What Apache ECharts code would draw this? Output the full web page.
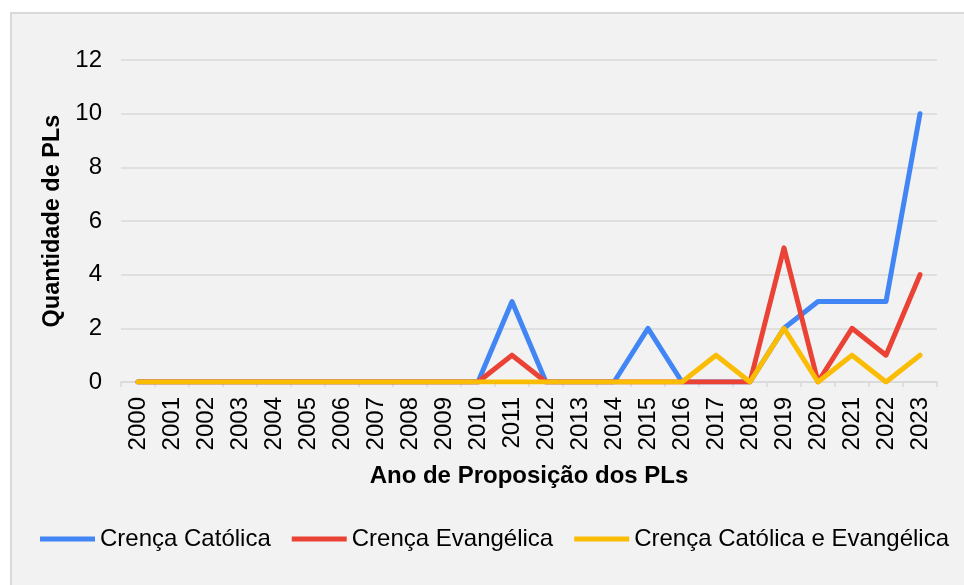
<!DOCTYPE html>
<html>
<head>
<meta charset="utf-8">
<script src="https://cdn.jsdelivr.net/npm/echarts@6/dist/echarts.min.js"></script>
<style>
html,body{margin:0;padding:0;background:#ffffff;}
#c{width:964px;height:585px;}
</style>
</head>
<body>
<div id="c"></div>
<script>
const years = ['2000','2001','2002','2003','2004','2005','2006','2007','2008','2009','2010','2011','2012','2013','2014','2015','2016','2017','2018','2019','2020','2021','2022','2023'];
const catolica   = [0,0,0,0,0,0,0,0,0,0,0,3,0,0,0,2,0,0,0,2,3,3,3,10];
const evangelica = [0,0,0,0,0,0,0,0,0,0,0,1,0,0,0,0,0,0,0,5,0,2,1,4];
const ambas      = [0,0,0,0,0,0,0,0,0,0,0,0,0,0,0,0,0,1,0,2,0,1,0,1];
const seriesNames = ['Crença Católica','Crença Evangélica','Crença Católica e Evangélica'];
const yTicks = {min:0, max:12, interval:2};

const font = '"Liberation Sans", Arial, sans-serif';
const colors = ['#4285F4','#EA4335','#FBBC04'];
const chart = echarts.init(document.getElementById('c'), null, {renderer:'canvas'});
const mk = (name, data, color) => ({
  name, type:'line', data, symbol:'none', smooth:false,
  lineStyle:{width:5, color, cap:'round', join:'round'},
  itemStyle:{color}
});
chart.setOption({
  animation:false,
  backgroundColor:'transparent',
  graphic:[{type:'rect', z:-10, silent:true,
    shape:{x:11,y:13,width:960,height:600},
    style:{fill:'#f2f2f2', stroke:'#d9d9d9', lineWidth:2}}],
  grid:{left:121, right:27, top:60, bottom:203},
  legend:{
    left:35, top:522, itemWidth:55, itemHeight:5, itemGap:21,
    icon:'rect',
    textStyle:{fontFamily:font, fontSize:24, color:'#000'},
    data:seriesNames
  },
  xAxis:{
    type:'category', data:years, boundaryGap:true,
    axisLine:{show:true, lineStyle:{color:'#d9d9d9', width:1.5}},
    axisTick:{show:true, alignWithLabel:false, length:5, lineStyle:{color:'#d9d9d9', width:1.5}},
    axisLabel:{rotate:90, fontFamily:font, fontSize:24, color:'#000', margin:15, interval:0},
    name:'Ano de Proposição dos PLs', nameLocation:'middle', nameGap:82,
    nameTextStyle:{fontFamily:font, fontSize:24, fontWeight:'bold', color:'#000'}
  },
  yAxis:{
    type:'value', min:yTicks.min, max:yTicks.max, interval:yTicks.interval,
    axisLine:{show:false}, axisTick:{show:false},
    splitLine:{lineStyle:{color:'#d9d9d9', width:1.5}},
    axisLabel:{fontFamily:font, fontSize:24, color:'#000', margin:19},
    name:'Quantidade de PLs', nameLocation:'middle', nameGap:53,
    nameTextStyle:{fontFamily:font, fontSize:23.5, fontWeight:'bold', color:'#000'}
  },
  series:[
    mk(seriesNames[0], catolica, colors[0]),
    mk(seriesNames[1], evangelica, colors[1]),
    mk(seriesNames[2], ambas, colors[2])
  ]
});
</script>
</body>
</html>
